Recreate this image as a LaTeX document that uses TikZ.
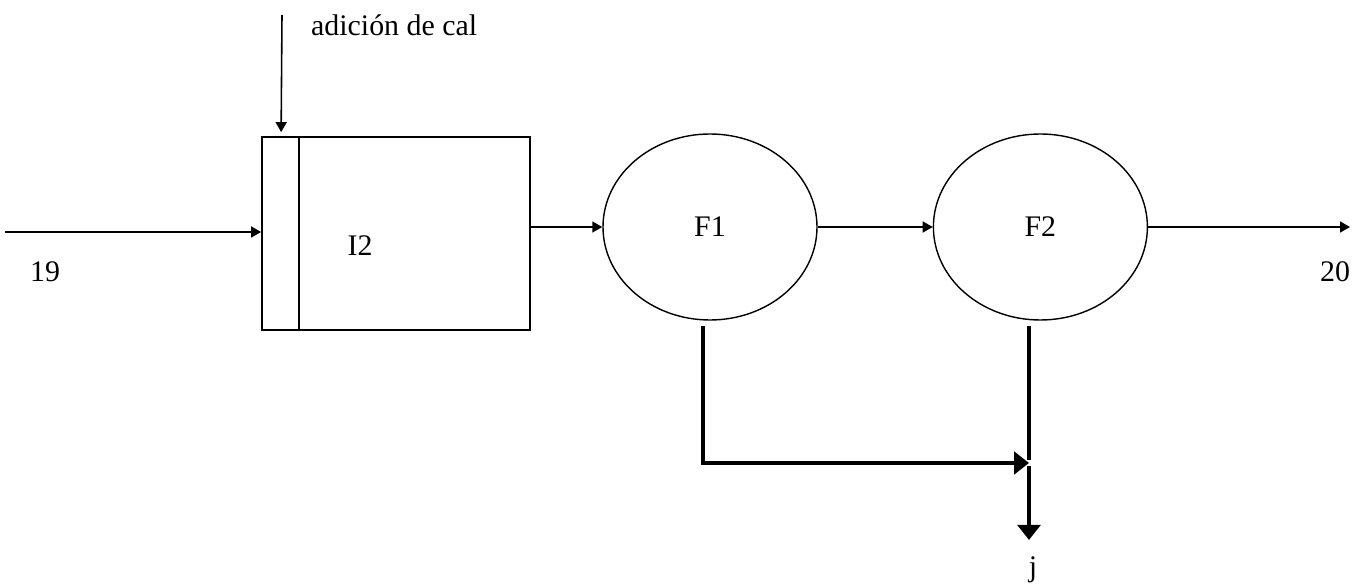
\documentclass[tikz,border=0pt]{standalone}
\usepackage{fontspec}
\setmainfont{Liberation Serif}
\usepackage{tikz}
\usetikzlibrary{positioning,arrows.meta,calc,shapes.geometric}

\begin{document}
\begin{tikzpicture}[font=\fontsize{17}{20}\selectfont,
  flow/.style={-{Triangle[length=0.2cm,width=0.22cm]},line width=0.9pt},
  drain/.style={-{Triangle[length=0.3cm,width=0.45cm]},line width=2.2pt},
  filter/.style={draw,ellipse,line width=0.8pt,minimum width=4.28cm,minimum height=3.72cm}]
  \useasboundingbox (0,0) rectangle (27.24,-11.7);
  % lime tank with its dosing strip
  \node[draw,rectangle,line width=1pt,minimum width=5.36cm,minimum height=3.86cm] (tank) at (7.92,-4.67) {};
  \draw[line width=1pt] ([xshift=0.76cm]tank.north west) -- ([xshift=0.76cm]tank.south west);
  \node (tanklbl) at ([xshift=-0.72cm,yshift=-0.24cm]tank.center) {I2};
  \coordinate (cal) at (5.64,-0.3);
  \draw[flow] (cal) -- ([xshift=0.4cm,yshift=0.08cm]tank.north west);
  \node[anchor=west] (callbl) at (6.1,-0.5) {adición de cal};
  % the two filters
  \node[filter] (filtA) at (14.2,-4.54) {F1};
  \node[filter] (filtB) [right=2.3cm of filtA] {F2};
  \coordinate (in19) at (0.1,-4.64);
  \coordinate (out20) at (27.0,-4.54);
  \draw[flow] (in19) -- (tank.west |- in19);
  \node (lblA) at (0.9,-5.44) {19};
  \draw[flow] (tank.east |- filtA.west) -- (filtA.west);
  \draw[flow] (filtA) -- (filtB);
  \draw[flow] (filtB) -- (out20);
  \node (lblB) at (26.7,-5.44) {20};
  % cakes going out
  \coordinate (jn) at (20.58,-9.26);
  \coordinate (outj) at (20.58,-10.8);
  \draw[drain] ([xshift=-0.14cm,yshift=-0.1cm]filtA.south) |- (jn);
  \draw[line width=2.2pt] ($(jn |- filtB.south)+(0,-0.1)$) -- ([yshift=0.06cm]jn);
  \draw[drain] ([yshift=-0.06cm]jn) -- (outj);
  \node (lblj) at (20.66,-11.4) {j};
\end{tikzpicture}
\end{document}
